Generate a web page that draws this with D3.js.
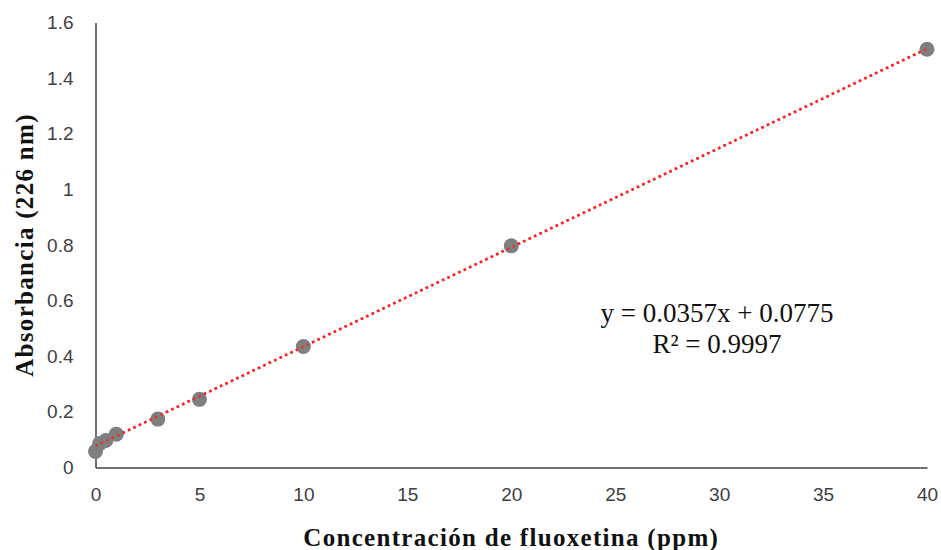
<!DOCTYPE html>
<html>
<head>
<meta charset="utf-8">
<script src="https://cdn.jsdelivr.net/npm/d3@7"></script>
<style>
  html, body { margin: 0; padding: 0; background: #fff; }
</style>
</head>
<body>
<div id="chart"></div>
<script>
// calibration data
const concentration = [0, 0.2, 0.5, 1, 3, 5, 10, 20, 40];
const absorbance = [0.058, 0.086, 0.097, 0.12, 0.174, 0.245, 0.435, 0.797, 1.504];
const xTicks = [0, 5, 10, 15, 20, 25, 30, 35, 40];
const yTicks = [0, 0.2, 0.4, 0.6, 0.8, 1, 1.2, 1.4, 1.6];
const slope = 0.0357;
const intercept = 0.0775;
const equationLines = ["y = 0.0357x + 0.0775", "R² = 0.9997"];

const width = 941, height = 550;
const margin = {top: 22.5, right: 14, bottom: 82.5, left: 95.5};

const svg = d3.select("#chart").append("svg")
  .attr("width", width)
  .attr("height", height);

const x = d3.scaleLinear().domain([0, 40]).range([margin.left, width - margin.right]);
const y = d3.scaleLinear().domain([0, 1.6]).range([height - margin.bottom, margin.top]);

// axes
const xAxis = svg.append("g")
  .attr("transform", `translate(0,${y(0)})`)
  .call(d3.axisBottom(x).tickValues(xTicks).tickSize(0).tickPadding(20).tickFormat(d3.format("d")));
const yAxis = svg.append("g")
  .attr("transform", `translate(${x(0)},0)`)
  .call(d3.axisLeft(y).tickValues(yTicks).tickSize(0).tickPadding(22).tickFormat(d => d3.format("")(+d.toFixed(1))));

[xAxis, yAxis].forEach(a => {
  a.select(".domain").attr("stroke", "#404040").attr("stroke-width", 1.5);
  a.selectAll("text")
    .attr("font-family", "Liberation Sans, Arial, sans-serif")
    .attr("font-size", 19)
    .attr("fill", "#404040");
});

// trendline
const trend = () => svg.append("line")
  .attr("x1", x(0)).attr("y1", y(intercept))
  .attr("x2", x(40)).attr("y2", y(intercept + slope * 40))
  .attr("stroke", "#ff2020")
  .attr("stroke-width", 2.5)
  .attr("stroke-dasharray", "2.5,3.5");
trend();

// points
svg.append("g").selectAll("circle")
  .data(concentration.map((c, i) => [c, absorbance[i]]))
  .enter().append("circle")
  .attr("cx", d => x(d[0]))
  .attr("cy", d => y(d[1]))
  .attr("r", 7.5)
  .attr("fill", "#7f7f7f");

// dots show through markers
trend().attr("opacity", 0.8);

// equation
const eq = svg.append("text")
  .attr("font-family", "Liberation Serif, Times New Roman, serif")
  .attr("font-size", 27)
  .attr("fill", "#111")
  .attr("text-anchor", "middle");
equationLines.forEach((t, i) => {
  eq.append("tspan").attr("x", 717).attr("y", 322 + i * 31).text(t);
});

// axis titles
svg.append("text")
  .attr("x", x(20)).attr("y", 546)
  .attr("text-anchor", "middle")
  .attr("font-family", "Liberation Serif, Times New Roman, serif")
  .attr("font-weight", "bold")
  .attr("font-size", 25)
  .attr("letter-spacing", 1.3)
  .attr("fill", "#111")
  .text("Concentración de fluoxetina (ppm)");

svg.append("text")
  .attr("transform", `translate(33,${y(0.8)}) rotate(-90)`)
  .attr("text-anchor", "middle")
  .attr("font-family", "Liberation Serif, Times New Roman, serif")
  .attr("font-weight", "bold")
  .attr("font-size", 25)
  .attr("letter-spacing", 1.3)
  .attr("fill", "#111")
  .text("Absorbancia (226 nm)");
</script>
</body>
</html>
